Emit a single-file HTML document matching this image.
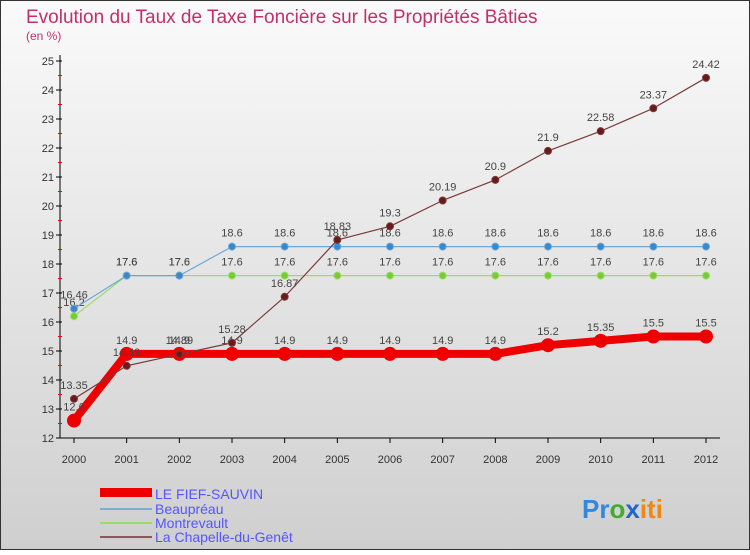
<!DOCTYPE html>
<html><head><meta charset="utf-8"><style>
body{margin:0;width:750px;height:550px;overflow:hidden;font-family:"Liberation Sans",sans-serif}
</style></head><body>
<svg id="c" width="750" height="550" xmlns="http://www.w3.org/2000/svg">
<defs><linearGradient id="bg" x1="0" y1="0" x2="0" y2="1"><stop offset="0" stop-color="#fafafa"/><stop offset="1" stop-color="#cfcfcf"/></linearGradient></defs>
<rect x="0.5" y="0.5" width="749" height="549" fill="url(#bg)" stroke="#333"/>
<text x="26" y="23" font-size="19" fill="#c0306a">Evolution du Taux de Taxe Foncière sur les Propriétés Bâties</text>
<text x="26" y="40" font-size="12" fill="#c0306a">(en %)</text>
<g id="axes"></g><g id="series"></g>
<g>
<rect x="100" y="488" width="52" height="9" fill="#e00"/>
<text x="155" y="499" font-size="14" fill="#55f">LE FIEF-SAUVIN</text>
<line x1="100" y1="509" x2="152" y2="509" stroke="#7aaed6" stroke-width="2"/>
<text x="155" y="514" font-size="14" fill="#55f">Beaupréau</text>
<line x1="100" y1="523" x2="152" y2="523" stroke="#99dd66" stroke-width="2"/>
<text x="155" y="528" font-size="14" fill="#55f">Montrevault</text>
<line x1="100" y1="537" x2="152" y2="537" stroke="#8a5a5a" stroke-width="2"/>
<text x="155" y="542" font-size="14" fill="#55f">La Chapelle-du-Genêt</text>
</g>
<text x="582" y="518" font-size="26" font-weight="bold"><tspan fill="#3388dd">Pr</tspan><tspan fill="#44aa33">o</tspan><tspan fill="#2266cc">x</tspan><tspan fill="#ee8811">iti</tspan></text>
</svg>
<script>
const years=[2000,2001,2002,2003,2004,2005,2006,2007,2008,2009,2010,2011,2012];
const yTicks=[12,13,14,15,16,17,18,19,20,21,22,23,24,25];
const fief=[12.6,14.9,14.9,14.9,14.9,14.9,14.9,14.9,14.9,15.2,15.35,15.5,15.5];
const beaupreau=[16.46,17.6,17.6,18.6,18.6,18.6,18.6,18.6,18.6,18.6,18.6,18.6,18.6];
const montrevault=[16.2,17.6,17.6,17.6,17.6,17.6,17.6,17.6,17.6,17.6,17.6,17.6,17.6];
const chapelle=[13.35,14.49,14.89,15.28,16.87,18.83,19.3,20.19,20.9,21.9,22.58,23.37,24.42];
const NS="http://www.w3.org/2000/svg";
const X=i=>74+i*(632/12);
const Y=v=>438-(v-12)*29;
function mk(t,a,p){const e=document.createElementNS(NS,t);for(const k in a)e.setAttribute(k,a[k]);p.appendChild(e);return e;}
const ax=document.getElementById('axes');
let yl=mk('line',{x1:60,y1:55,x2:60,y2:438,stroke:'#000'},ax);


let xl=mk('line',{x1:60,y1:438,x2:720,y2:438,stroke:'#000'},ax);


yTicks.forEach(v=>{
 mk('line',{x1:56,y1:Y(v),x2:62,y2:Y(v),stroke:'#000'},ax);
 if(v<25)mk('line',{x1:58,y1:Y(v+0.5),x2:62,y2:Y(v+0.5),stroke:'#e00'},ax);
 const t=mk('text',{x:54,y:Y(v)+4,'font-size':11,'text-anchor':'end',fill:'#333'},ax);t.textContent=v;
 
 
});
years.forEach((yr,i)=>{
 mk('line',{x1:X(i),y1:438,x2:X(i),y2:443,stroke:'#000'},ax);
 const t=mk('text',{x:X(i),y:463,'font-size':11,'text-anchor':'middle',fill:'#333'},ax);t.textContent=yr;
 
 
});
const sg=document.getElementById('series');
function draw(arr,col,w,r,dot,name){
 const g=mk('g',{},sg);
 
 
 mk('polyline',{points:arr.map((v,i)=>X(i)+','+Y(v)).join(' '),fill:'none',stroke:col,'stroke-width':w,'stroke-linejoin':'round'},g);
 arr.forEach((v,i)=>{
  const c=mk('circle',{cx:X(i),cy:Y(v),r:r,fill:dot,stroke:col,'stroke-width':1},g);
  
  
  const t=mk('text',{x:X(i),y:Y(v)-10,'font-size':11,'text-anchor':'middle',fill:'#444'},g);t.textContent=v;
 });
}
draw(montrevault,'#99dd66',1.2,3.5,'#77cc33','series-montrevault');
draw(beaupreau,'#6aa8d8',1.2,3.5,'#3a88c8','series-beaupreau');
draw(fief,'#ee0000',8,6.5,'#ee0000','series-fief-sauvin');
draw(chapelle,'#7a3a3a',1.2,3.5,'#6a1a1a','series-chapelle');
</script>
</body></html>
